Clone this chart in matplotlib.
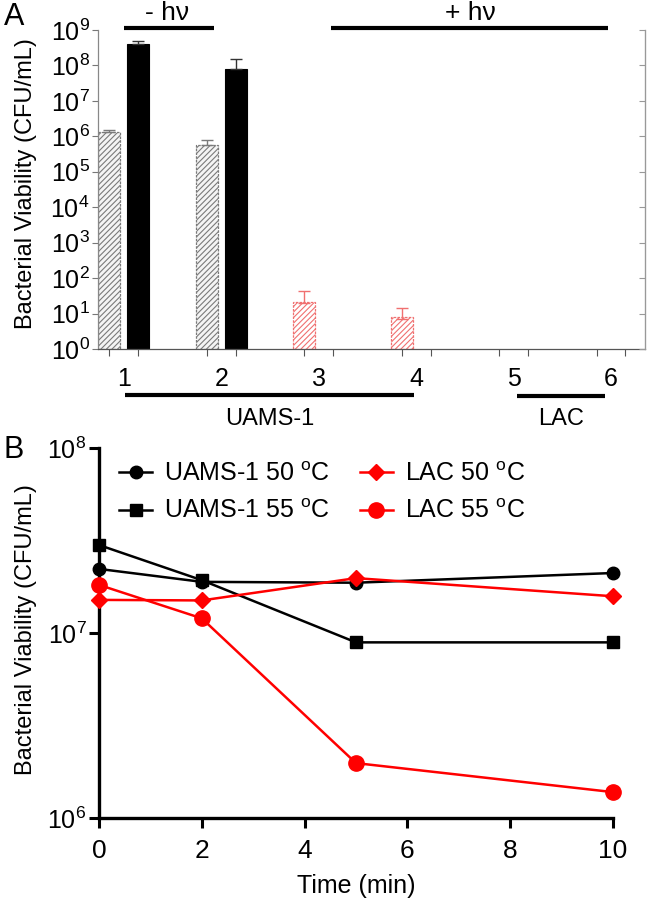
import matplotlib
matplotlib.use("Agg")
import matplotlib.pyplot as plt
import numpy as np
from matplotlib.ticker import FixedLocator, NullLocator, FixedFormatter

plt.rcParams['font.family'] = ['Liberation Sans', 'DejaVu Sans']
plt.rcParams['mathtext.default'] = 'regular'
plt.rcParams['hatch.linewidth'] = 0.8

# ---------------- Panel A data ----------------
groups = [1, 2, 3, 4, 5, 6]
hatched_vals = [1.35e6, 5.8e5, 20, 7, 0, 0]
hatched_err = [2.0e5, 2.2e5, 23, 7.5, 0, 0]
solid_vals = [4.1e8, 8.1e7, 0, 0, 0, 0]
solid_err = [9e7, 7.4e7, 0, 0, 0, 0]
hatched_colors = ['#7a7a7a', '#7a7a7a', '#f07070', '#f07070', '#f07070', '#f07070']
ytick_exps = list(range(0, 10))

# ---------------- Panel B data ----------------
time_min = [0, 2, 5, 10]
uams_50 = [2.22e7, 1.89e7, 1.87e7, 2.11e7]
uams_55 = [2.99e7, 1.93e7, 8.9e6, 8.9e6]
lac_50 = [1.51e7, 1.50e7, 1.98e7, 1.58e7]
lac_55 = [1.82e7, 1.20e7, 1.98e6, 1.38e6]

fig = plt.figure(figsize=(6.53, 8.98), dpi=100)

# ================= Panel A =================
axA = fig.add_axes([0.150, 0.6114, 0.988 - 0.150, 0.9666 - 0.6114])
off = 0.148
w = 0.225
xh = np.array(groups) - off
xs = np.array(groups) + off

for x, v, e, c in zip(xh, hatched_vals, hatched_err, hatched_colors):
    if v > 0:
        axA.bar(x, v, width=w, bottom=1, facecolor='#f4f4f4' if c == '#7a7a7a' else 'white',
                edgecolor=c, hatch='//////', linewidth=0.9, linestyle=(0, (2, 1)), zorder=2)
        axA.errorbar(x, v, yerr=[[0], [e]], fmt='none', ecolor=c,
                     elinewidth=1.0, capsize=4, capthick=1.0, zorder=3)
for x, v, e in zip(xs, solid_vals, solid_err):
    if v > 0:
        axA.bar(x, v, width=w, bottom=1, facecolor='black', edgecolor='black',
                linewidth=0.8, zorder=2)
        axA.errorbar(x, v, yerr=[[0], [e]], fmt='none', ecolor='#333333',
                     elinewidth=1.0, capsize=4, capthick=1.0, zorder=3)

axA.set_yscale('log')
axA.set_ylim(1, 1e9)
axA.set_xlim(0.735, 6.35)
axA.yaxis.set_major_locator(FixedLocator([10.0 ** k for k in ytick_exps]))
axA.yaxis.set_major_formatter(FixedFormatter(['$10^{%d}$' % k for k in ytick_exps]))
axA.yaxis.set_minor_locator(NullLocator())
axA.tick_params(axis='y', which='major', labelsize=18, length=4, width=0.8,
                color='#777777', pad=2)

tick_pos = sorted(list(xh) + list(xs))
axA.xaxis.set_major_locator(FixedLocator(tick_pos))
axA.xaxis.set_major_formatter(FixedFormatter([''] * len(tick_pos)))
axA.xaxis.set_minor_locator(FixedLocator(groups))
axA.xaxis.set_minor_formatter(FixedFormatter([str(g) for g in groups]))
axA.tick_params(axis='x', which='major', length=5, width=0.8, color='#555555')
axA.tick_params(axis='x', which='minor', length=0, labelsize=18, pad=13)

axA.spines['top'].set_visible(False)
axA.spines['left'].set_color('#888888')
axA.spines['left'].set_linewidth(0.9)
axA.spines['bottom'].set_color('#555555')
axA.spines['bottom'].set_linewidth(0.9)
axA.spines['right'].set_color('#999999')
axA.spines['right'].set_linewidth(0.9)

axR = axA.twinx()
axR.set_yscale('log')
axR.set_ylim(1, 1e9)
axR.yaxis.set_major_locator(FixedLocator([10.0 ** k for k in ytick_exps]))
axR.yaxis.set_minor_locator(NullLocator())
axR.tick_params(axis='y', direction='in', length=4, width=0.8, color='#999999',
                labelright=False)
for s in ['top', 'left', 'bottom']:
    axR.spines[s].set_visible(False)
axR.spines['right'].set_color('#999999')

axA.set_ylabel('Bacterial Viability (CFU/mL)', fontsize=17)
axA.yaxis.set_label_coords(-0.112, 0.52)

trA = axA.get_xaxis_transform()
axA.plot([1.0, 1.93], [1.005, 1.005], color='black', lw=3, transform=trA, clip_on=False,
         solid_capstyle='butt')
axA.plot([3.13, 5.97], [1.005, 1.005], color='black', lw=3, transform=trA, clip_on=False,
         solid_capstyle='butt')
fig.text(0.256, 0.999, '- hν', ha='center', va='top', fontsize=19)
fig.text(0.72, 0.999, '+ hν', ha='center', va='top', fontsize=19)
axA.plot([1.01, 3.98], [-0.145, -0.145], color='black', lw=3, transform=trA, clip_on=False,
         solid_capstyle='butt')
axA.text(2.5, -0.185, 'UAMS-1', transform=trA, ha='center', va='top', fontsize=17)
axA.plot([5.04, 5.94], [-0.148, -0.148], color='black', lw=3, transform=trA, clip_on=False,
         solid_capstyle='butt')
axA.text(5.49, -0.185, 'LAC', transform=trA, ha='center', va='top', fontsize=17)

fig.text(0.006, 0.998, 'A', fontsize=22, ha='left', va='top')

# ================= Panel B =================
axB = fig.add_axes([0.1516, 0.0891, 0.9387 - 0.1516, 0.5011 - 0.0891])
axB.plot(time_min, uams_50, color='black', lw=1.8, marker='o', ms=9, label='UAMS-1 50 $^{o}$C', clip_on=False, zorder=3)
axB.plot(time_min, uams_55, color='black', lw=1.8, marker='s', ms=9, label='UAMS-1 55 $^{o}$C', clip_on=False, zorder=3)
axB.plot(time_min, lac_50, color='#ff0000', lw=1.8, marker='D', ms=8, label='LAC 50 $^{o}$C', clip_on=False, zorder=4)
axB.plot(time_min, lac_55, color='#ff0000', lw=1.8, marker='o', ms=11, label='LAC 55 $^{o}$C', clip_on=False, zorder=4)

axB.set_yscale('log')
axB.set_ylim(1e6, 1e8)
axB.set_xlim(0, 10)
axB.yaxis.set_major_locator(FixedLocator([1e6, 1e7, 1e8]))
axB.yaxis.set_major_formatter(FixedFormatter(['$10^{6}$', '$10^{7}$', '$10^{8}$']))
axB.yaxis.set_minor_locator(NullLocator())
axB.xaxis.set_major_locator(FixedLocator([0, 2, 4, 6, 8, 10]))
axB.tick_params(axis='both', which='major', labelsize=19, length=7, width=2.2)
axB.tick_params(axis='x', pad=8)
axB.tick_params(axis='y', labelsize=18, pad=2)
for s in ['top', 'right']:
    axB.spines[s].set_visible(False)
for s in ['left', 'bottom']:
    axB.spines[s].set_linewidth(2.4)
axB.set_xlabel('Time (min)', fontsize=18, labelpad=8)
axB.set_ylabel('Bacterial Viability (CFU/mL)', fontsize=17)
axB.yaxis.set_label_coords(-0.12, 0.51)

axB.legend(ncol=2, loc='upper left', bbox_to_anchor=(0.02, 0.99), frameon=False,
           fontsize=18, handlelength=1.3, handletextpad=0.5, columnspacing=1.2,
           labelspacing=0.55, borderaxespad=0)

fig.text(0.006, 0.5156, 'B', fontsize=22, ha='left', va='top')

fig.savefig('out.png', dpi=100)
